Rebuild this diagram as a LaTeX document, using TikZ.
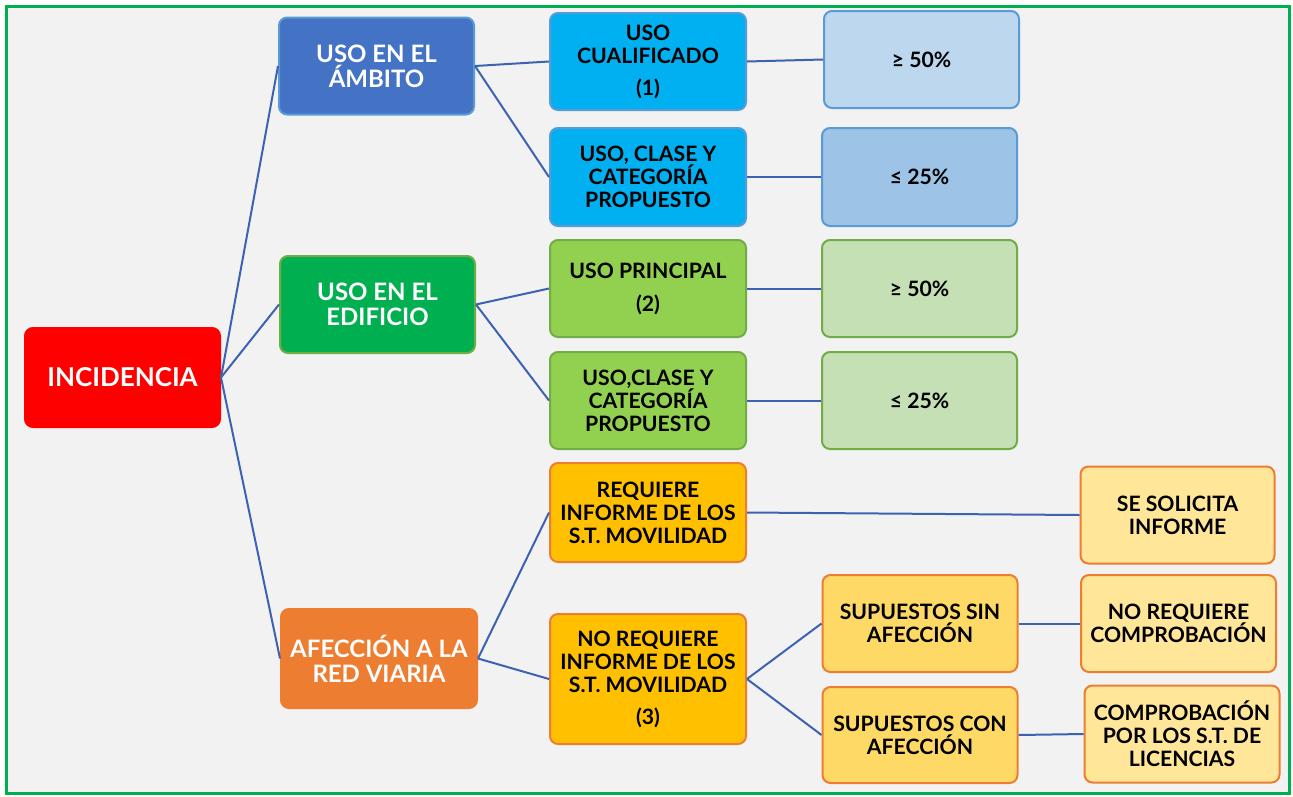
\documentclass[tikz,border=0pt]{standalone}
\usepackage{fontspec}
\setmainfont{Lato}
\definecolor{bg}{HTML}{F2F2F2}
\definecolor{frame}{HTML}{00B050}
\definecolor{linec}{RGB}{62,98,178}
\definecolor{cblue}{HTML}{4472C4}
\definecolor{cbluebd}{HTML}{5B9BD5}
\definecolor{ccyan}{HTML}{00B0F0}
\definecolor{clblue}{HTML}{BDD7EE}
\definecolor{cmblue}{HTML}{9DC3E6}
\definecolor{cgreen}{HTML}{00B050}
\definecolor{cgreenbd}{HTML}{70AD47}
\definecolor{clime}{HTML}{92D050}
\definecolor{clgreen}{HTML}{C5E0B4}
\definecolor{corange}{HTML}{ED7D31}
\definecolor{cgold}{HTML}{FFC000}
\definecolor{cyel}{HTML}{FFD966}
\definecolor{clyel}{HTML}{FFE699}
\tikzset{
  box/.style={draw, rounded corners=8pt, line width=2pt, minimum width=195pt,
    minimum height=97pt, align=center, inner sep=2pt, text=black,
    font=\fontsize{21.2}{23}\selectfont\bfseries},
  bigbox/.style={box, text=white, font=\fontsize{24}{25}\selectfont\bfseries},
  conn/.style={draw=linec, line width=2pt},
}
\begin{document}
\begin{tikzpicture}[x=1pt,y=-1pt]
\useasboundingbox (0,0) rectangle (1293,796);
\fill[white] (0,0) rectangle (1293,796);
\draw[frame, line width=3pt, fill=bg] (6.5,6.5) rectangle (1289,793);

% level 0
\node[bigbox, fill=red, draw=red, minimum width=195pt, minimum height=99pt, font=\fontsize{26}{25}\selectfont\bfseries] (inc) at (122.5,377.5) {INCIDENCIA};
% level 1
\node[bigbox, fill=cblue, draw=cbluebd] (amb) at (376.5,66) {USO EN EL\\ÁMBITO};
\node[bigbox, fill=cgreen, draw=cgreenbd] (edi) at (377.5,304.5) {USO EN EL\\EDIFICIO};
\node[bigbox, fill=corange, draw=corange, minimum width=196pt, minimum height=99pt] (afe) at (379,658.5) {AFECCIÓN A LA\\RED VIARIA};
% level 2
\node[box, fill=ccyan, draw=cbluebd, minimum width=196pt] (cua) at (648,61.5) {USO\\CUALIFICADO\\[9pt](1)};
\node[box, fill=ccyan, draw=cbluebd, minimum width=196pt, minimum height=98pt] (ucla) at (648,177) {USO, CLASE Y\\CATEGORÍA\\PROPUESTO};
\node[box, fill=clime, draw=cgreenbd, minimum width=196pt] (pri) at (648,288.5) {USO PRINCIPAL\\[10pt](2)};
\node[box, fill=clime, draw=cgreenbd, minimum width=196pt] (uclb) at (648,400.5) {USO,CLASE Y\\CATEGORÍA\\PROPUESTO};
\node[box, fill=cgold, draw=corange, minimum width=196pt, minimum height=99pt] (req) at (648,512.5) {REQUIERE\\INFORME DE LOS\\S.T. MOVILIDAD};
\node[box, fill=cgold, draw=corange, minimum width=196pt, minimum height=130pt] (noreq) at (648,679) {NO REQUIERE\\INFORME DE LOS\\S.T. MOVILIDAD\\[9pt](3)};
% level 3
\node[box, fill=clblue, draw=cbluebd] (pa) at (921.5,59.5) {≥ 50\%};
\node[box, fill=cmblue, draw=cbluebd, minimum height=98pt] (pb) at (919.5,177) {≤ 25\%};
\node[box, fill=clgreen, draw=cgreenbd] (pc) at (919.5,288.5) {≥ 50\%};
\node[box, fill=clgreen, draw=cgreenbd] (pd) at (919.5,400.5) {≤ 25\%};
\node[box, fill=cyel, draw=corange] (sin) at (920,623.5) {SUPUESTOS SIN\\AFECCIÓN};
\node[box, fill=cyel, draw=corange, minimum height=96pt] (con) at (920,735) {SUPUESTOS CON\\AFECCIÓN};
% level 4
\node[box, fill=clyel, draw=corange, minimum width=194pt] (sol) at (1177.5,515) {SE SOLICITA\\INFORME};
\node[box, fill=clyel, draw=corange] (nrc) at (1178.5,623.5) {NO REQUIERE\\COMPROBACIÓN};
\node[box, fill=clyel, draw=corange] (comp) at (1182,734) {COMPROBACIÓN\\POR LOS S.T. DE\\LICENCIAS};

% connectors
\draw[conn] (inc.east) -- (amb.west);
\draw[conn] (inc.east) -- (edi.west);
\draw[conn] (inc.east) -- (afe.west);
\draw[conn] (amb.east) -- (cua.west);
\draw[conn] (amb.east) -- (ucla.west);
\draw[conn] (edi.east) -- (pri.west);
\draw[conn] (edi.east) -- (uclb.west);
\draw[conn] (afe.east) -- (req.west);
\draw[conn] (afe.east) -- (noreq.west);
\draw[conn] (cua.east) -- (pa.west);
\draw[conn] (ucla.east) -- (pb.west);
\draw[conn] (pri.east) -- (pc.west);
\draw[conn] (uclb.east) -- (pd.west);
\draw[conn] (req.east) -- (sol.west);
\draw[conn] (noreq.east) -- (sin.west);
\draw[conn] (noreq.east) -- (con.west);
\draw[conn] (sin.east) -- (nrc.west);
\draw[conn] (con.east) -- (comp.west);
\end{tikzpicture}
\end{document}
